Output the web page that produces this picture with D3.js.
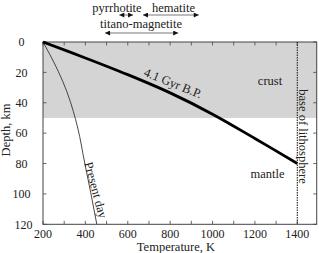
<!DOCTYPE html>
<html>
<head>
<meta charset="utf-8">
<script src="https://cdn.jsdelivr.net/npm/d3@7"></script>
<style>
  body { margin: 0; background: #fff; }
  text { font-family: "Liberation Serif", "DejaVu Serif", serif; fill: #222; }
</style>
</head>
<body>
<script>
// geotherm 4.1 Gyr ago
const ancientT = [200, 400, 600, 800, 1000, 1200, 1400]
const ancientDepth = [0, 10.5, 21.5, 33.5, 47.5, 63.5, 80]

// present-day geotherm
const presentT = [200, 233, 272, 312, 343, 364, 396, 425, 454]
const presentDepth = [0, 8.4, 19.3, 32.4, 45.6, 56.6, 79, 99, 120]

// blocking-temperature ranges (arrows on top)
const minerals = ["pyrrhotite", "hematite", "titano-magnetite"]
const mineralFrom = [560, 672, 493]
const mineralTo = [625, 935, 838]
const mineralRow = [0, 0, 1]

const xTickLabels = [200, 400, 600, 800, 1000, 1200, 1400]
const xMinorTicks = d3.range(200, 1401, 100)
const yTickLabels = [0, 20, 40, 60, 80, 100, 120]
const crustDepth = 50
const lithosphereT = 1400

const width = 319, height = 253
const svg = d3.select("body").append("svg")
    .attr("width", width)
    .attr("height", height)

const x = d3.scaleLinear().domain([200, 1400]).range([43, 297.3])
const y = d3.scaleLinear().domain([0, 120]).range([42, 224.3])
const xRight = 316.7
const labelSize = 12.5

// crust shading
svg.append("rect")
    .attr("x", x(200)).attr("y", y(0))
    .attr("width", xRight - x(200))
    .attr("height", y(crustDepth) - y(0))
    .attr("fill", "#d4d4d4")

// frame
svg.append("rect")
    .attr("x", x(200)).attr("y", y(0))
    .attr("width", xRight - x(200))
    .attr("height", y(120) - y(0))
    .attr("fill", "none")
    .attr("stroke", "#444")
    .attr("stroke-width", 1)

const tickLen = 3.5
const ticks = svg.append("g").attr("stroke", "#444").attr("stroke-width", 0.8)
xMinorTicks.forEach(t => {
    ticks.append("line").attr("x1", x(t)).attr("x2", x(t)).attr("y1", y(0)).attr("y2", y(0) + tickLen)
    ticks.append("line").attr("x1", x(t)).attr("x2", x(t)).attr("y1", y(120)).attr("y2", y(120) - tickLen)
})
yTickLabels.forEach(d => {
    ticks.append("line").attr("x1", x(200)).attr("x2", x(200) + tickLen).attr("y1", y(d)).attr("y2", y(d))
    ticks.append("line").attr("x1", xRight).attr("x2", xRight - tickLen).attr("y1", y(d)).attr("y2", y(d))
})

// tick labels
svg.append("g").selectAll("text")
    .data(xTickLabels)
    .enter().append("text")
    .attr("x", d => x(d))
    .attr("y", 238)
    .attr("text-anchor", "middle")
    .attr("font-size", 12)
    .text(d => d)

svg.append("g").selectAll("text")
    .data(yTickLabels)
    .enter().append("text")
    .attr("x", d => d == 120 ? 23.5 : 21.5)
    .attr("y", d => y(d))
    .attr("dy", "0.35em")
    .attr("text-anchor", "middle")
    .attr("font-size", 12)
    .text(d => d)

// axis titles
svg.append("text")
    .attr("x", 176).attr("y", 251)
    .attr("text-anchor", "middle")
    .attr("font-size", labelSize)
    .text("Temperature, K")

svg.append("text")
    .attr("transform", "translate(9.5,130) rotate(-90)")
    .attr("text-anchor", "middle")
    .attr("font-size", labelSize)
    .text("Depth, km")

// base of lithosphere
svg.append("line")
    .attr("x1", x(lithosphereT)).attr("x2", x(lithosphereT))
    .attr("y1", y(0)).attr("y2", y(120))
    .attr("stroke", "#222")
    .attr("stroke-width", 1.1)
    .attr("stroke-dasharray", "1.5,1")

svg.append("path")
    .datum(presentT.map((t, i) => [t, presentDepth[i]]))
    .attr("fill", "none")
    .attr("stroke", "#333")
    .attr("stroke-width", 0.9)
    .attr("d", d3.line().x(d => x(d[0])).y(d => y(d[1])).curve(d3.curveMonotoneY))

svg.append("path")
    .datum(ancientT.map((t, i) => [t, ancientDepth[i]]))
    .attr("fill", "none")
    .attr("stroke", "#000")
    .attr("stroke-width", 2.8)
    .attr("d", d3.line().x(d => x(d[0])).y(d => y(d[1])).curve(d3.curveCatmullRom))

// curve labels
svg.append("text")
    .attr("transform", "translate(171.5,87) rotate(22)")
    .attr("text-anchor", "middle")
    .attr("font-size", labelSize)
    .text("4.1 Gyr B.P.")

svg.append("text")
    .attr("transform", "translate(96,190) rotate(75)")
    .attr("text-anchor", "middle")
    .attr("dy", "0.35em")
    .attr("font-size", labelSize)
    .text("Present day")

svg.append("text")
    .attr("x", 270).attr("y", 85)
    .attr("text-anchor", "middle")
    .attr("font-size", labelSize)
    .text("crust")

svg.append("text")
    .attr("x", 267.5).attr("y", 178)
    .attr("text-anchor", "middle")
    .attr("font-size", labelSize)
    .text("mantle")

svg.append("text")
    .attr("transform", "translate(303,136.5) rotate(90)")
    .attr("text-anchor", "middle")
    .attr("dy", "0.35em")
    .attr("font-size", labelSize)
    .text("base of lithosphere")

// mineral arrows
const defs = svg.append("defs")
defs.append("marker")
    .attr("id", "head")
    .attr("viewBox", "0 -5 10 10")
    .attr("refX", 10)
    .attr("refY", 0)
    .attr("markerWidth", 7)
    .attr("markerHeight", 5)
    .attr("markerUnits", "userSpaceOnUse")
    .attr("orient", "auto-start-reverse")
    .append("path")
    .attr("fill", "#111")
    .attr("d", "M0,-5L10,0L0,5Z")

const rowY = [15, 33]
const labelY = [11.5, 28]

minerals.forEach((m, i) => {
    const x1 = x(mineralFrom[i]), x2 = x(mineralTo[i])
    svg.append("line")
        .attr("x1", x1).attr("x2", x2)
        .attr("y1", rowY[mineralRow[i]]).attr("y2", rowY[mineralRow[i]])
        .attr("stroke", "#555")
        .attr("stroke-width", 0.8)
        .attr("marker-start", "url(#head)")
        .attr("marker-end", "url(#head)")
})

svg.append("text").attr("x", 117).attr("y", labelY[0])
    .attr("text-anchor", "middle").attr("font-size", labelSize).text(minerals[0])
svg.append("text").attr("x", 173.5).attr("y", labelY[0])
    .attr("text-anchor", "middle").attr("font-size", labelSize).text(minerals[1])
svg.append("text").attr("x", 141).attr("y", labelY[1])
    .attr("text-anchor", "middle").attr("font-size", labelSize).text(minerals[2])
</script>
</body>
</html>
